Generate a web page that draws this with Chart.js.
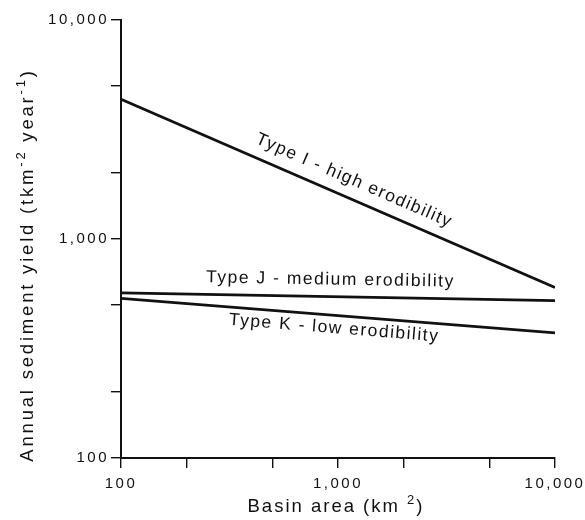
<!DOCTYPE html>
<html>
<head>
<meta charset="utf-8">
<title>Annual sediment yield vs basin area</title>
<script src="https://cdn.jsdelivr.net/npm/chart.js@4/dist/chart.umd.min.js"></script>
<style>
  html, body { margin: 0; padding: 0; background: #fff; }
  #wrap { width: 585px; height: 520px; }
</style>
</head>
<body>
<div id="wrap"><canvas id="sedimentChart"></canvas></div>
<script>
// values (log-log, straight lines between end points)
const basinArea = [100, 10000];
const typeI = [4350, 600];
const typeJ = [567, 523];
const typeK = [536, 373];
const seriesNames = ['Type I - high erodibility', 'Type J - medium erodibility', 'Type K - low erodibility'];

const xTicks = [100, 200, 500, 1000, 2000, 5000, 10000];
const yTicks = [100, 200, 500, 1000, 2000, 5000, 10000];
const labelledTicks = [100, 1000, 10000];

// axis titles, split so the exponents can be raised
const xTitle = [{ t: 'Basin area (km ' }, { t: '2', sup: true }, { t: ')' }];
const yTitle = [{ t: 'Annual sediment yield (tkm' }, { t: '-2', sup: true }, { t: ' year' }, { t: '-1', sup: true }, { t: ')' }];

const ink = '#111';
const fontFamily = '"Liberation Sans", Arial, Helvetica, sans-serif';

function toPoints(ys) {
    return basinArea.map((x, i) => ({ x: x, y: ys[i] }));
}

// the original lettering is widely tracked
const tracking = {
    id: 'tracking',
    beforeDraw(chart) { chart.ctx.letterSpacing = '2.5px'; },
    beforeLayout(chart) { chart.ctx.letterSpacing = '2.5px'; }
};

// draws a run of text with superscripts, centred on 0
function drawRuns(ctx, runs, size) {
    const big = size + 'px ' + fontFamily;
    const small = Math.round(size * 0.7) + 'px ' + fontFamily;
    let total = 0;
    runs.forEach(r => { ctx.font = r.sup ? small : big; r.w = ctx.measureText(r.t).width; total += r.w; });
    let x = -total / 2;
    runs.forEach(r => {
        ctx.font = r.sup ? small : big;
        ctx.fillText(r.t, x, r.sup ? -size * 0.45 : 0);
        x += r.w;
    });
}

const axisTitles = {
    id: 'axisTitles',
    afterDraw(chart) {
        const ctx = chart.ctx;
        const area = chart.chartArea;
        ctx.save();
        ctx.fillStyle = ink;
        ctx.textAlign = 'left';
        ctx.textBaseline = 'alphabetic';
        ctx.save();
        ctx.letterSpacing = '2px';
        ctx.translate((area.left + area.right) / 2 - 2, chart.height - 8);
        drawRuns(ctx, xTitle, 18.5);
        ctx.restore();
        ctx.save();
        ctx.letterSpacing = '2.8px';
        ctx.translate(33, (area.top + area.bottom) / 2 + 26);
        ctx.rotate(-Math.PI / 2);
        drawRuns(ctx, yTitle, 18.5);
        ctx.restore();
        ctx.restore();
    }
};

// writes each series name along its own line
const curveLabels = {
    id: 'curveLabels',
    afterDatasetsDraw(chart, args, opts) {
        const ctx = chart.ctx;
        const xs = chart.scales.x;
        const ys = chart.scales.y;
        opts.items.forEach(item => {
            const pts = chart.data.datasets[item.dataset].data;
            const a = { x: xs.getPixelForValue(pts[0].x), y: ys.getPixelForValue(pts[0].y) };
            const b = { x: xs.getPixelForValue(pts[pts.length - 1].x), y: ys.getPixelForValue(pts[pts.length - 1].y) };
            const angle = Math.atan2(b.y - a.y, b.x - a.x);
            const px = xs.getPixelForValue(item.at);
            const t = (px - a.x) / (b.x - a.x);
            const py = a.y + t * (b.y - a.y);
            ctx.save();
            ctx.translate(px, py);
            ctx.rotate(angle);
            ctx.font = opts.font;
            ctx.letterSpacing = '1.5px';
            ctx.fillStyle = ink;
            ctx.textAlign = 'center';
            ctx.textBaseline = 'middle';
            ctx.fillText(seriesNames[item.dataset], 0, item.offset);
            ctx.restore();
        });
    }
};

const ctx = document.getElementById('sedimentChart');
const lineStyle = { borderColor: ink, borderWidth: 2.8, pointRadius: 0, fill: false, tension: 0 };

new Chart(ctx, {
    type: 'line',
    data: {
        datasets: [
            Object.assign({ label: seriesNames[0], data: toPoints(typeI) }, lineStyle),
            Object.assign({ label: seriesNames[1], data: toPoints(typeJ) }, lineStyle),
            Object.assign({ label: seriesNames[2], data: toPoints(typeK) }, lineStyle)
        ]
    },
    options: {
        responsive: true,
        maintainAspectRatio: false,
        animation: false,
        layout: { padding: { top: 20, right: 30, left: 0, bottom: 0 } },
        scales: {
            x: {
                type: 'logarithmic',
                min: 100,
                max: 10000,
                afterBuildTicks: scale => { scale.ticks = xTicks.map(v => ({ value: v })); },
                afterFit: scale => {
                    scale.height = 62;
                    scale.paddingLeft = 0;
                    scale.paddingRight = 0;
                },
                ticks: {
                    autoSkip: false,
                    maxRotation: 0,
                    color: ink,
                    padding: 7,
                    font: { family: fontFamily, size: 15 },
                    callback: v => labelledTicks.includes(v) ? v.toLocaleString('en-US') : ''
                },
                grid: { drawOnChartArea: false, tickLength: 10, color: ink, lineWidth: 1.4 },
                border: { color: ink, width: 2 },
                title: { display: false }
            },
            y: {
                type: 'logarithmic',
                min: 100,
                max: 10000,
                afterBuildTicks: scale => { scale.ticks = yTicks.map(v => ({ value: v })); },
                afterFit: scale => { scale.width = 121; },
                ticks: {
                    autoSkip: false,
                    color: ink,
                    padding: 2,
                    font: { family: fontFamily, size: 15 },
                    callback: v => labelledTicks.includes(v) ? v.toLocaleString('en-US') : ''
                },
                grid: { drawOnChartArea: false, tickLength: 10, color: ink, lineWidth: 1.4 },
                border: { color: ink, width: 2 },
                title: { display: false }
            }
        },
        plugins: {
            legend: { display: false },
            tooltip: { enabled: false },
            curveLabels: {
                font: '17.5px ' + fontFamily,
                items: [
                    { dataset: 0, at: 1100, offset: -18 },
                    { dataset: 1, at: 920, offset: -17 },
                    { dataset: 2, at: 970, offset: 13 }
                ]
            }
        }
    },
    plugins: [tracking, curveLabels, axisTitles]
});
</script>
</body>
</html>
